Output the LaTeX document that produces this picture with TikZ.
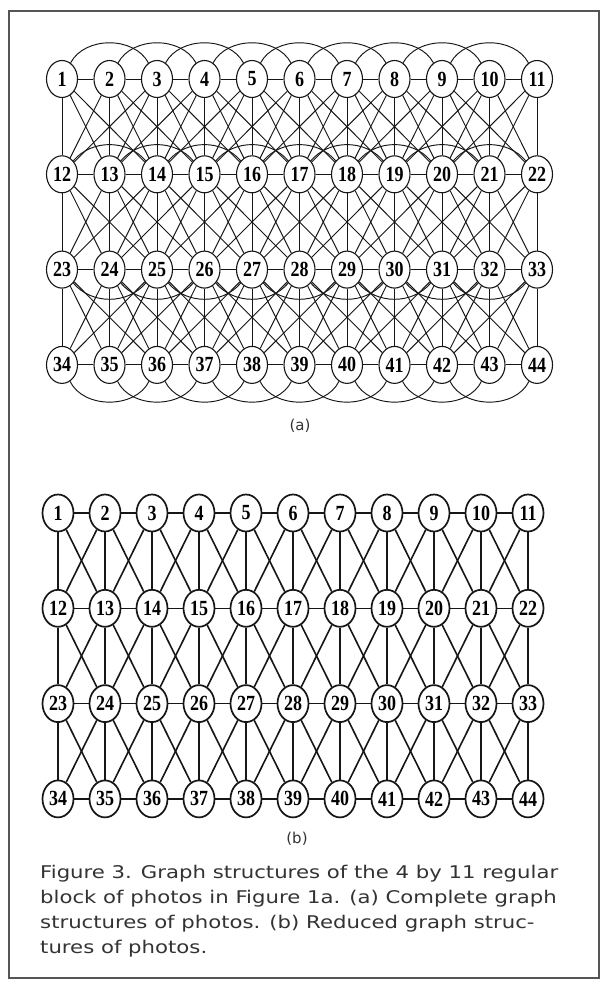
\documentclass[tikz,border=0pt]{standalone}
\usepackage{fontspec}
\usepackage{graphicx}
\setmainfont{Liberation Serif}
\newfontfamily\capfont{DejaVu Sans}
\usetikzlibrary{shapes.geometric}
\definecolor{inkc}{HTML}{161616}
\definecolor{capc}{HTML}{333333}
\definecolor{framec}{HTML}{555555}
\newcommand\nlab[1]{\scalebox{1}[1.2]{#1}}
\newlength\capw
\tikzset{
  na/.style={ellipse, draw=inkc, line width=1.1pt, fill=white, minimum width=31pt, minimum height=37pt, inner sep=0pt,
    font=\fontsize{18}{18}\selectfont\bfseries},
  nb/.style={ellipse, draw=inkc, line width=1.7pt, fill=white, minimum width=31pt, minimum height=37pt, inner sep=0pt,
    font=\fontsize{18}{18}\selectfont\bfseries},
  ea/.style={draw=inkc, line width=0.95pt},
  eb/.style={draw=inkc, line width=1.6pt},
  capline/.style={anchor=base west, inner sep=0pt, text=capc, font=\capfont\fontsize{17.5}{17.5}\selectfont},
  sublab/.style={inner sep=0pt, text=capc, font=\capfont\fontsize{15}{15}\selectfont}
}
\begin{document}
\settowidth\capw{\capfont\fontsize{17.5}{17.5}\selectfont Figure 3. Graph structures of the 4 by 11 regular}
\pgfmathsetmacro\capsx{518pt/\capw}
\begin{tikzpicture}[x=1pt,y=1pt]
\useasboundingbox (0,0) rectangle (604,-982);
\fill[white] (0,0) rectangle (604,-982);
\draw[framec, line width=1.3pt] (9,-11) rectangle (599,-978);
% ---------- graph (a) ----------
\foreach \r in {1,...,4}{\foreach \c in {1,...,11}{
  \pgfmathtruncatemacro\id{(\r-1)*11+\c}
  \node[na] (a\id) at ({62+47.5*(\c-1)},{-79-95.3*(\r-1)}) {\nlab{\id}};
}}
% horizontal neighbours
\foreach \r in {1,...,4}{\foreach \c in {1,...,10}{
  \pgfmathtruncatemacro\p{(\r-1)*11+\c}
  \pgfmathtruncatemacro\q{\p+1}
  \draw[ea] (a\p) -- (a\q);
}}
% arcs to second neighbours
\foreach \r/\o/\i in {1/62/118, 2/50/130, 3/-50/-130, 4/-64/-116}{\foreach \c in {1,...,9}{
  \pgfmathtruncatemacro\p{(\r-1)*11+\c}
  \pgfmathtruncatemacro\q{\p+2}
  \draw[ea] (a\p) to[out=\o,in=\i] (a\q);
}}
% links between rows
\foreach \r in {1,2,3}{\foreach \c in {1,...,11}{\foreach \d in {-2,...,2}{
  \pgfmathtruncatemacro\cc{\c+\d}
  \ifnum\cc>0 \ifnum\cc<12
    \pgfmathtruncatemacro\p{(\r-1)*11+\c}
    \pgfmathtruncatemacro\q{\r*11+\cc}
    \draw[ea] (a\p) -- (a\q);
  \fi\fi
}}}
\node[sublab] (la) at (300,-426) {(a)};
% ---------- graph (b) ----------
\foreach \r in {1,...,4}{\foreach \c in {1,...,11}{
  \pgfmathtruncatemacro\id{(\r-1)*11+\c}
  \node[nb] (b\id) at ({58+47*(\c-1)},{-513-95.3*(\r-1)}) {\nlab{\id}};
}}
\foreach \r in {1,...,4}{\foreach \c in {1,...,10}{
  \pgfmathtruncatemacro\p{(\r-1)*11+\c}
  \pgfmathtruncatemacro\q{\p+1}
  \draw[eb] (b\p) -- (b\q);
}}
\foreach \r in {1,2,3}{\foreach \c in {1,...,11}{\foreach \d in {-1,0,1}{
  \pgfmathtruncatemacro\cc{\c+\d}
  \ifnum\cc>0 \ifnum\cc<12
    \pgfmathtruncatemacro\p{(\r-1)*11+\c}
    \pgfmathtruncatemacro\q{\r*11+\cc}
    \draw[eb] (b\p) -- (b\q);
  \fi\fi
}}}
\node[sublab] (lb) at (297,-839) {(b)};
% ---------- caption ----------
\node[capline] (c1) at (40,-878) {\scalebox{\capsx}[1]{Figure 3. Graph structures of the 4 by 11 regular}};
\node[capline] (c2) at (40,-903) {\scalebox{\capsx}[1]{block of photos in Figure 1a. (a) Complete graph}};
\node[capline] (c3) at (40,-928) {\scalebox{\capsx}[1]{structures of photos. (b) Reduced graph struc-}};
\node[capline] (c4) at (40,-953) {\scalebox{\capsx}[1]{tures of photos.}};
\end{tikzpicture}
\end{document}
